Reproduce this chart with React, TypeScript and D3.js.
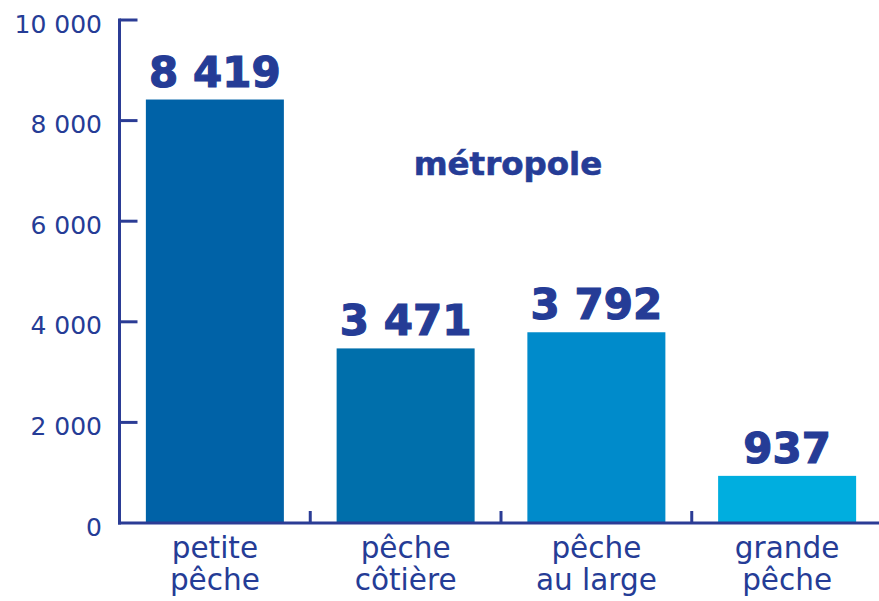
import React from "react";
import * as d3 from "d3";

const categories = ["petite\npêche", "pêche\ncôtière", "pêche\nau large", "grande\npêche"];
const values = [8419, 3471, 3792, 937];
const barColors = ["#0062A7", "#006FAB", "#008BCB", "#00AEDF"];
const yTicks = [0, 2000, 4000, 6000, 8000, 10000];
const title = "métropole";

const W = 879;
const H = 601;
const ink = "#253C96";
const axisColor = "#2B3C95";

const fmt = (v: number) => d3.format(",")(v).replace(/,/g, " ");

export default function App() {
  const x = d3
    .scaleBand<string>()
    .domain(categories)
    .range([119.5, 882.5])
    .paddingInner(0.2765)
    .paddingOuter(0.13825);
  const y = d3.scaleLinear().domain([0, 10000]).range([523, 20]);
  const x0 = 119.5;
  const bounds = categories.slice(1).map((c) => (x(c) as number) - (x.step() - x.bandwidth()) / 2);

  return (
    <svg
      width={W}
      height={H}
      style={{ position: "absolute", left: 0, top: 0, background: "#fff" }}
      fontFamily="DejaVu Sans, sans-serif"
    >
      {/* bars */}
      {categories.map((c, i) => (
        <rect
          key={c}
          x={x(c)}
          y={y(values[i])}
          width={x.bandwidth()}
          height={y(0) - y(values[i])}
          fill={barColors[i]}
        />
      ))}
      {/* axes */}
      <line x1={x0} x2={x0} y1={y(10000) - 1.5} y2={y(0) + 1.5} stroke={axisColor} strokeWidth={3} />
      <line x1={x0 - 1.5} x2={W} y1={y(0)} y2={y(0)} stroke={axisColor} strokeWidth={3} />
      {yTicks.map((t) => (
        <g key={t}>
          {t > 0 && (
            <line x1={x0} x2={x0 + 18} y1={y(t)} y2={y(t)} stroke={axisColor} strokeWidth={3} />
          )}
          <text
            x={102}
            y={y(t) + 4}
            textAnchor="end"
            dominantBaseline="central"
            fontSize={25}
            fill={ink}
          >
            {fmt(t)}
          </text>
        </g>
      ))}
      {bounds.map((b, i) => (
        <line key={i} x1={b} x2={b} y1={y(0)} y2={y(0) - 12} stroke={axisColor} strokeWidth={3} />
      ))}
      {/* value labels */}
      {categories.map((c, i) => (
        <text
          key={c}
          x={(x(c) as number) + x.bandwidth() / 2}
          y={y(values[i]) - 13}
          textAnchor="middle"
          fontSize={42}
          fontWeight="bold"
          fill={ink}
          stroke={ink}
          strokeWidth={1.2}
        >
          {fmt(values[i])}
        </text>
      ))}
      {/* category labels */}
      {categories.map((c) => (
        <text
          key={c}
          x={(x(c) as number) + x.bandwidth() / 2}
          textAnchor="middle"
          fontSize={29.5}
          fill={ink}
        >
          {c.split("\n").map((line, j) => (
            <tspan key={j} x={(x(c) as number) + x.bandwidth() / 2} y={558 + j * 32}>
              {line}
            </tspan>
          ))}
        </text>
      ))}
      <text
        x={508}
        y={175}
        textAnchor="middle"
        fontSize={32.5}
        fontWeight="bold"
        fill={ink}
        stroke={ink}
        strokeWidth={0.6}
      >
        {title}
      </text>
    </svg>
  );
}
